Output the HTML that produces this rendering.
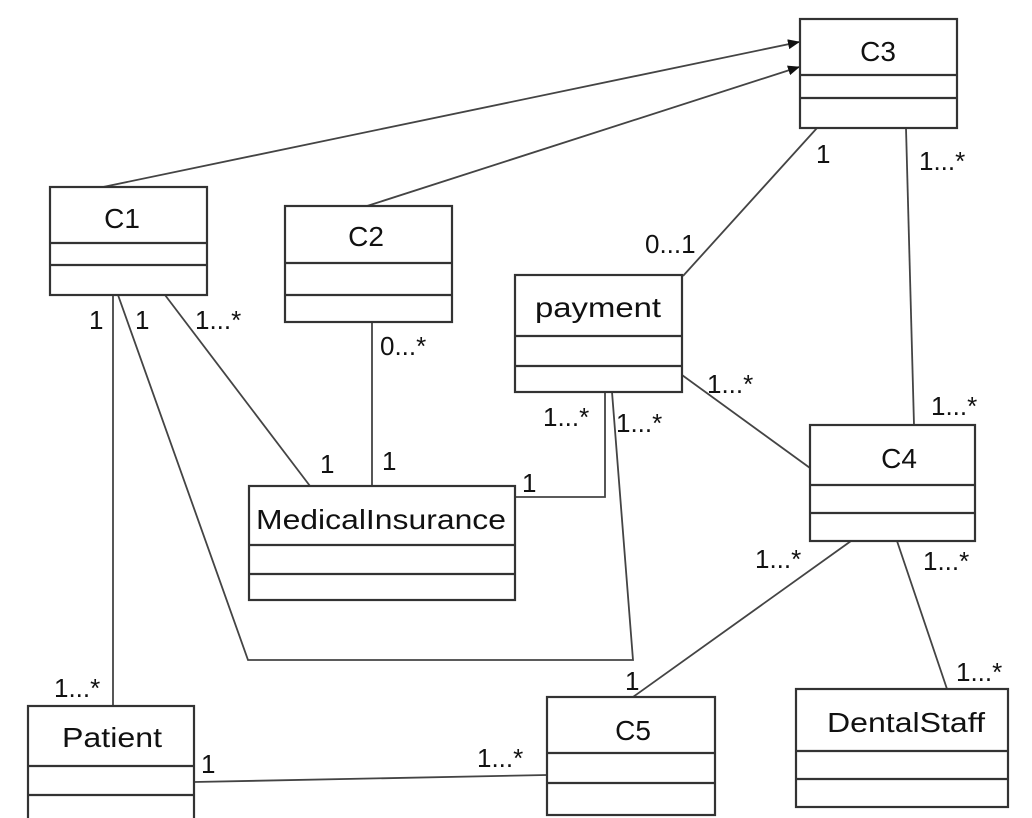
<!DOCTYPE html>
<html><head><meta charset="utf-8"><style>
html,body{margin:0;padding:0;background:#fff;}
svg{display:block;}
text{font-family:"Liberation Sans","Noto Sans CJK SC",sans-serif;fill:#111;}
.n{font-size:28px;text-anchor:middle;}
.m{font-size:26px;}
rect,line.d{fill:#fff;stroke:#333;stroke-width:2.2;}
.c{fill:none;stroke:#444;stroke-width:1.8;}
</style></head><body>
<svg width="1032" height="818" viewBox="0 0 1032 818" xmlns="http://www.w3.org/2000/svg">
<defs><marker id="a" markerWidth="12" markerHeight="10" refX="11" refY="5" orient="auto" markerUnits="userSpaceOnUse"><path d="M0,0 L12,5 L0,10 z" fill="#111"/></marker></defs>
<line class="c" x1="103" y1="187" x2="799" y2="42" marker-end="url(#a)"/>
<line class="c" x1="367" y1="206" x2="799" y2="67" marker-end="url(#a)"/>
<line class="c" x1="113" y1="295" x2="113" y2="706"/>
<polyline class="c" points="118,295 248,660 633,660 612,392"/>
<line class="c" x1="165" y1="295" x2="310" y2="486"/>
<line class="c" x1="372" y1="322" x2="372" y2="486"/>
<polyline class="c" points="605,392 605,497 515,497"/>
<line class="c" x1="817" y1="128" x2="683" y2="276"/>
<line class="c" x1="906" y1="128" x2="914" y2="425"/>
<line class="c" x1="682" y1="375" x2="810" y2="468"/>
<line class="c" x1="851" y1="541" x2="633" y2="697"/>
<line class="c" x1="897" y1="541" x2="947" y2="689"/>
<line class="c" x1="194" y1="782" x2="547" y2="775"/>
<g>
<rect x="800" y="19" width="157" height="109"/><line class="d" x1="800" y1="75" x2="957" y2="75"/><line class="d" x1="800" y1="98" x2="957" y2="98"/>
<text class="n" x="878" y="61">C3</text>
</g>
<g>
<rect x="50" y="187" width="157" height="108"/><line class="d" x1="50" y1="243" x2="207" y2="243"/><line class="d" x1="50" y1="265" x2="207" y2="265"/>
<text class="n" x="122" y="228">C1</text>
</g>
<g>
<rect x="285" y="206" width="167" height="116"/><line class="d" x1="285" y1="263" x2="452" y2="263"/><line class="d" x1="285" y1="295" x2="452" y2="295"/>
<text class="n" x="366" y="246">C2</text>
</g>
<g>
<rect x="515" y="275" width="167" height="117"/><line class="d" x1="515" y1="336" x2="682" y2="336"/><line class="d" x1="515" y1="366" x2="682" y2="366"/>
<text class="n" x="598" y="317" textLength="126" lengthAdjust="spacingAndGlyphs">payment</text>
</g>
<g>
<rect x="249" y="486" width="266" height="114"/><line class="d" x1="249" y1="545" x2="515" y2="545"/><line class="d" x1="249" y1="574" x2="515" y2="574"/>
<text class="n" x="381" y="529" textLength="250" lengthAdjust="spacingAndGlyphs">MedicalInsurance</text>
</g>
<g>
<rect x="810" y="425" width="165" height="116"/><line class="d" x1="810" y1="485" x2="975" y2="485"/><line class="d" x1="810" y1="513" x2="975" y2="513"/>
<text class="n" x="899" y="468">C4</text>
</g>
<g>
<rect x="28" y="706" width="166" height="116"/><line class="d" x1="28" y1="766" x2="194" y2="766"/><line class="d" x1="28" y1="795" x2="194" y2="795"/>
<text class="n" x="112" y="747" textLength="100" lengthAdjust="spacingAndGlyphs">Patient</text>
</g>
<g>
<rect x="547" y="697" width="168" height="118"/><line class="d" x1="547" y1="753" x2="715" y2="753"/><line class="d" x1="547" y1="783" x2="715" y2="783"/>
<text class="n" x="633" y="740">C5</text>
</g>
<g>
<rect x="796" y="689" width="212" height="118"/><line class="d" x1="796" y1="751" x2="1008" y2="751"/><line class="d" x1="796" y1="779" x2="1008" y2="779"/>
<text class="n" x="906" y="732" textLength="158" lengthAdjust="spacingAndGlyphs">DentalStaff</text>
</g>
<g>
<text class="m" x="816" y="163">1</text>
<text class="m" x="919" y="170">1...*</text>
<text class="m" x="645" y="253">0...1</text>
<text class="m" x="89" y="329">1</text>
<text class="m" x="135" y="329">1</text>
<text class="m" x="195" y="329">1...*</text>
<text class="m" x="380" y="355">0...*</text>
<text class="m" x="707" y="393">1...*</text>
<text class="m" x="931" y="415">1...*</text>
<text class="m" x="543" y="426">1...*</text>
<text class="m" x="616" y="432">1...*</text>
<text class="m" x="320" y="473">1</text>
<text class="m" x="382" y="470">1</text>
<text class="m" x="522" y="492">1</text>
<text class="m" x="755" y="568">1...*</text>
<text class="m" x="923" y="570">1...*</text>
<text class="m" x="956" y="681">1...*</text>
<text class="m" x="625" y="690">1</text>
<text class="m" x="54" y="697">1...*</text>
<text class="m" x="201" y="773">1</text>
<text class="m" x="477" y="767">1...*</text>
</g>
</svg>
</body></html>
